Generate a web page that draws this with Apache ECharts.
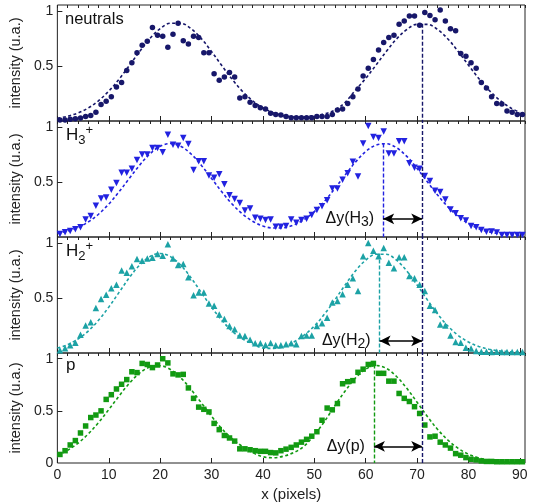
<!DOCTYPE html>
<html>
<head>
    <meta charset="UTF-8">
    <title>intensity profiles</title>
    <script src="https://cdn.jsdelivr.net/npm/echarts@6/dist/echarts.min.js"></script>
    <style>
        html, body { margin: 0; padding: 0; background: #fff; }
        #main { width: 535px; height: 503px; }
    </style>
</head>
<body>
<div id="main"></div>
<script type="text/javascript">
    // measured points (pixel position, one per pixel)
    var xPts = [0.5, 1.5, 2.5, 3.5, 4.5, 5.5, 6.5, 7.5, 8.5, 9.5,
        10.5, 11.5, 12.5, 13.5, 14.5, 15.5, 16.5, 17.5, 18.5, 19.5,
        20.5, 21.5, 22.5, 23.5, 24.5, 25.5, 26.5, 27.5, 28.5, 29.5,
        30.5, 31.5, 32.5, 33.5, 34.5, 35.5, 36.5, 37.5, 38.5, 39.5,
        40.5, 41.5, 42.5, 43.5, 44.5, 45.5, 46.5, 47.5, 48.5, 49.5,
        50.5, 51.5, 52.5, 53.5, 54.5, 55.5, 56.5, 57.5, 58.5, 59.5,
        60.5, 61.5, 62.5, 63.5, 64.5, 65.5, 66.5, 67.5, 68.5, 69.5,
        70.5, 71.5, 72.5, 73.5, 74.5, 75.5, 76.5, 77.5, 78.5, 79.5,
        80.5, 81.5, 82.5, 83.5, 84.5, 85.5, 86.5, 87.5, 88.5, 89.5, 90.5];

    var neutralsY = [0.01, 0.01, 0.015, 0.02, 0.027, 0.04, 0.05, 0.08, 0.15, 0.18,
        0.22, 0.31, 0.35, 0.46, 0.53, 0.62, 0.69, 0.725, 0.85, 0.78,
        0.77, 0.67, 0.79, 0.89, 0.73, 0.70, 0.77, 0.76, 0.62, 0.62,
        0.43, 0.37, 0.40, 0.44, 0.40, 0.21, 0.22, 0.17, 0.14, 0.12,
        0.11, 0.07, 0.06, 0.055, 0.04, 0.03, 0.03, 0.03, 0.03, 0.03,
        0.04, 0.04, 0.04, 0.06, 0.10, 0.11, 0.16, 0.22, 0.29, 0.41,
        0.48, 0.56, 0.645, 0.715, 0.76, 0.78, 0.88, 0.91, 0.956, 0.956,
        0.87, 0.986, 0.96, 0.92, 1.01, 0.91, 0.84, 0.82, 0.615, 0.59,
        0.53, 0.48, 0.35, 0.30, 0.22, 0.16, 0.155, 0.09, 0.08, 0.06, 0.06];

    var h3Y = [0.027, 0.043, 0.055, 0.07, 0.088, 0.16, 0.19, 0.285, 0.35, 0.36,
        0.43, 0.49, 0.585, 0.585, 0.62, 0.70, 0.75, 0.75, 0.81, 0.81,
        0.77, 0.93, 0.84, 0.83, 0.90, 0.845, 0.61, 0.69, 0.69, 0.56,
        0.54, 0.57, 0.48, 0.38, 0.345, 0.31, 0.24, 0.26, 0.175, 0.165,
        0.155, 0.16, 0.094, 0.094, 0.10, 0.16, 0.13, 0.155, 0.167, 0.20,
        0.245, 0.28, 0.335, 0.44, 0.44, 0.52, 0.58, 0.685, 0.55, 0.85,
        1.01, 0.91, 0.90, 0.96, 0.76, 0.76, 0.87, 0.87, 0.67, 0.63,
        0.62, 0.555, 0.51, 0.42, 0.41, 0.34, 0.25, 0.215, 0.17, 0.15,
        0.10, 0.088, 0.064, 0.048, 0.05, 0.04, 0.018, 0.018, 0.018, 0.018, 0.018];

    var h2Y = [0.025, 0.043, 0.07, 0.094, 0.167, 0.25, 0.28, 0.41, 0.49, 0.53,
        0.59, 0.62, 0.75, 0.73, 0.79, 0.854, 0.84, 0.86, 0.866, 0.90,
        0.884, 0.99, 0.86, 0.80, 0.81, 0.69, 0.526, 0.55, 0.55, 0.45,
        0.43, 0.35, 0.31, 0.246, 0.216, 0.16, 0.155, 0.12, 0.088, 0.088,
        0.073, 0.09, 0.07, 0.07, 0.08, 0.088, 0.08, 0.155, 0.16, 0.16,
        0.246, 0.27, 0.32, 0.46, 0.474, 0.535, 0.62, 0.68, 0.565, 0.88,
        1.0, 0.93, 0.88, 0.954, 0.82, 0.77, 0.87, 0.87, 0.70, 0.68,
        0.62, 0.565, 0.43, 0.39, 0.26, 0.25, 0.16, 0.10, 0.094, 0.048,
        0.04, 0.018, 0.012, 0.012, 0.01, 0.012, 0.01, 0.01, 0.01, 0.01, 0.01];

    var pY = [0.082, 0.118, 0.173, 0.215, 0.288, 0.355, 0.436, 0.46, 0.50, 0.61,
        0.655, 0.71, 0.755, 0.80, 0.875, 0.867, 0.955, 0.945, 0.915, 0.94,
        1.0, 0.96, 0.855, 0.845, 0.85, 0.72, 0.62, 0.536, 0.515, 0.49,
        0.38, 0.32, 0.264, 0.24, 0.21, 0.136, 0.136, 0.127, 0.118, 0.112,
        0.112, 0.10, 0.097, 0.118, 0.133, 0.15, 0.173, 0.20, 0.227, 0.257,
        0.30, 0.41, 0.527, 0.51, 0.57, 0.76, 0.78, 0.79, 0.87, 0.90,
        0.945, 0.955, 0.86, 0.86, 0.785, 0.785, 0.667, 0.62, 0.59, 0.54,
        0.475, 0.364, 0.25, 0.257, 0.20, 0.173, 0.143, 0.09, 0.075, 0.052,
        0.036, 0.03, 0.02, 0.015, 0.015, 0.012, 0.012, 0.012, 0.012, 0.012, 0.012];

    // fitted curves (dashed), read every 2 pixels
    var xFit = [0, 2, 4, 6, 8, 10, 12, 14, 16, 18, 20, 22, 24, 26, 28, 30,
        32, 34, 36, 38, 40, 42, 44, 46, 48, 50, 52, 54, 56, 58, 60, 62,
        64, 66, 68, 70, 72, 74, 76, 78, 80, 82, 84, 86, 88, 90];

    var neutralsFit = [0.025, 0.043, 0.073, 0.118, 0.184, 0.271, 0.380, 0.504, 0.632, 0.750,
        0.840, 0.889, 0.889, 0.840, 0.750, 0.632, 0.504, 0.380, 0.271, 0.184,
        0.118, 0.076, 0.049, 0.037, 0.038, 0.050, 0.065, 0.100, 0.170, 0.280,
        0.387, 0.508, 0.632, 0.746, 0.832, 0.879, 0.879, 0.832, 0.746, 0.632,
        0.508, 0.387, 0.280, 0.192, 0.125, 0.078];

    var h3Fit = [0.034, 0.054, 0.086, 0.136, 0.207, 0.299, 0.411, 0.533, 0.653, 0.756,
        0.826, 0.850, 0.826, 0.756, 0.653, 0.533, 0.411, 0.300, 0.210, 0.143,
        0.100, 0.082, 0.084, 0.109, 0.158, 0.230, 0.326, 0.441, 0.564, 0.681,
        0.777, 0.836, 0.848, 0.812, 0.733, 0.624, 0.502, 0.381, 0.274, 0.187,
        0.122, 0.076, 0.047, 0.030, 0.020, 0.015];

    var h2Fit = [0.045, 0.076, 0.127, 0.199, 0.298, 0.417, 0.551, 0.685, 0.799, 0.877,
        0.905, 0.877, 0.799, 0.685, 0.551, 0.417, 0.298, 0.199, 0.130, 0.083,
        0.045, 0.042, 0.055, 0.100, 0.162, 0.245, 0.355, 0.483, 0.619, 0.746,
        0.844, 0.898, 0.898, 0.844, 0.746, 0.619, 0.483, 0.355, 0.245, 0.160,
        0.100, 0.059, 0.034, 0.019, 0.012, 0.008];

    var pFit = [0.074, 0.122, 0.189, 0.278, 0.387, 0.512, 0.642, 0.764, 0.862, 0.921,
        0.933, 0.897, 0.817, 0.706, 0.578, 0.449, 0.330, 0.233, 0.158, 0.100,
        0.060, 0.050, 0.065, 0.100, 0.160, 0.270, 0.400, 0.550, 0.690, 0.815,
        0.900, 0.935, 0.908, 0.830, 0.716, 0.583, 0.446, 0.322, 0.219, 0.140,
        0.085, 0.049, 0.026, 0.013, 0.006, 0.003];

    // ticks
    var xTicks = [0, 10, 20, 30, 40, 50, 60, 70, 80, 90];
    var yTicks = [0.5, 1];
    var yTicksBottom = [0, 0.5, 1];

    // peak positions and shifts
    var refX = 71;          // neutrals peak
    var refTop = 0.885;
    var peakX = [63.4, 62.7, 61.6];
    var peakY = [0.85, 0.905, 0.945];
    var arrowY = [0.165, 0.11, 0.16];
    var deltaText = ['{a|Δy(H}{s|3}{a|)}', '{a|Δy(H}{s|2}{a|)}', '{a|Δy(p)}'];

    var navy = '#17176a';
    var panels = [
        {pts: neutralsY, fit: neutralsFit, color: navy, symbol: 'circle', size: 5.5, rot: 0},
        {pts: h3Y, fit: h3Fit, color: '#2222e0', symbol: 'triangle', size: 6.5, rot: 180},
        {pts: h2Y, fit: h2Fit, color: '#1ca2a5', symbol: 'triangle', size: 6.5, rot: 0},
        {pts: pY, fit: pFit, color: '#129a12', symbol: 'rect', size: 5.5, rot: 0}
    ];

    var font = 'Liberation Sans, Arial, sans-serif';
    var tops = [5, 121, 237, 353];
    var yMax = 1.055;

    function zip(xs, ys) {
        return xs.map(function (x, i) { return [x, ys[i]]; });
    }

    var grids = [], xAxes = [], yAxes = [], series = [];

    panels.forEach(function (p, g) {
        var last = g === panels.length - 1;
        grids.push({left: 53, right: 10, top: tops[g], height: 116, show: true,
            borderColor: '#222', borderWidth: 1, backgroundColor: 'transparent'});

        // major ticks + labels
        xAxes.push({
            type: 'value', gridIndex: g, min: 0, max: 91, interval: 10,
            axisLine: {show: false}, splitLine: {show: false},
            axisTick: {inside: true, length: 5, customValues: xTicks, lineStyle: {color: '#222'}},
            axisLabel: {show: last, customValues: xTicks, fontSize: 14, color: '#222', margin: 5, fontFamily: font},
            name: last ? 'x (pixels)' : '', nameLocation: 'middle', nameGap: 24,
            nameTextStyle: {fontSize: 15, color: '#222', fontFamily: font}
        });
        // minor ticks
        xAxes.push({
            type: 'value', gridIndex: g, min: 0, max: 91, interval: 2,
            axisLine: {show: false}, splitLine: {show: false}, axisLabel: {show: false},
            axisTick: {inside: true, length: 3, lineStyle: {color: '#222'}}
        });
        yAxes.push({
            type: 'value', gridIndex: g, min: 0, max: yMax, interval: 0.5,
            axisLine: {show: false}, splitLine: {show: false},
            axisTick: {inside: true, length: 5, customValues: yTicks, lineStyle: {color: '#222'}},
            axisLabel: {customValues: last ? yTicksBottom : yTicks, fontSize: 14, color: '#222', margin: 4, fontFamily: font},
            name: 'intensity (u.a.)', nameLocation: 'middle', nameGap: 26,
            nameTextStyle: {fontSize: 14.5, color: '#222', fontFamily: font}
        });

        var navyStyle = {color: navy, width: 1.4, type: [4, 2]};
        var marks;
        if (g === 0) {
            marks = [[{coord: [refX, refTop], lineStyle: navyStyle}, {coord: [refX, 0]}]];
        } else {
            var k = g - 1;
            marks = [
                [{coord: [refX, 0], lineStyle: navyStyle}, {coord: [refX, yMax]}],
                [{coord: [peakX[k], peakY[k]], lineStyle: {color: p.color, width: 1.4, type: [4, 2]}},
                    {coord: [peakX[k], 0]}],
                [{coord: [peakX[k], arrowY[k]], symbol: 'arrow', symbolSize: [8, 11],
                    lineStyle: {color: '#000', width: 1.6, type: 'solid'},
                    label: {show: true, position: 'start', distance: 9, formatter: deltaText[k],
                        rich: {
                            a: {fontSize: 16, color: '#111', fontFamily: font},
                            s: {fontSize: 14, color: '#111', fontFamily: font, padding: [6, 0, 0, 0]}
                        }}},
                    {coord: [refX, arrowY[k]], symbol: 'arrow', symbolSize: [8, 11]}]
            ];
        }

        series.push({
            type: 'line', xAxisIndex: 2 * g, yAxisIndex: g,
            data: zip(xFit, p.fit), smooth: 0.35, showSymbol: false, z: 2,
            lineStyle: {color: p.color, width: 1.6, type: [3, 2.5]},
            markLine: {silent: true, symbol: ['none', 'none'], label: {show: false},
                animation: false, data: marks}
        });
        series.push({
            type: 'scatter', xAxisIndex: 2 * g, yAxisIndex: g,
            data: zip(xPts, p.pts), symbol: p.symbol, symbolSize: p.size, symbolRotate: p.rot,
            itemStyle: {color: p.color, opacity: 1}, z: 3
        });
    });

    var labelRich = {
        b: {fontSize: 17, fill: '#111', fontFamily: font},
        sub: {fontSize: 13, fill: '#111', fontFamily: font, padding: [9, 0, 0, 0]},
        sup: {fontSize: 13, fill: '#111', fontFamily: font, padding: [0, 0, 10, 0]}
    };

    var option = {
        animation: false,
        textStyle: {fontFamily: font},
        grid: grids,
        xAxis: xAxes,
        yAxis: yAxes,
        series: series,
        graphic: [
            {type: 'text', left: 65, top: 11, style: {text: 'neutrals', fontSize: 16.5, fill: '#111', fontFamily: font}},
            {type: 'text', left: 66, top: 124, style: {text: '{b|H}{sub|3}{sup|+}', rich: labelRich}},
            {type: 'text', left: 66, top: 240, style: {text: '{b|H}{sub|2}{sup|+}', rich: labelRich}},
            {type: 'text', left: 66, top: 357, style: {text: 'p', fontSize: 17, fill: '#111', fontFamily: font}}
        ]
    };

    var echart = echarts.init(document.getElementById('main'));
    echart.setOption(option);
</script>
</body>
</html>
